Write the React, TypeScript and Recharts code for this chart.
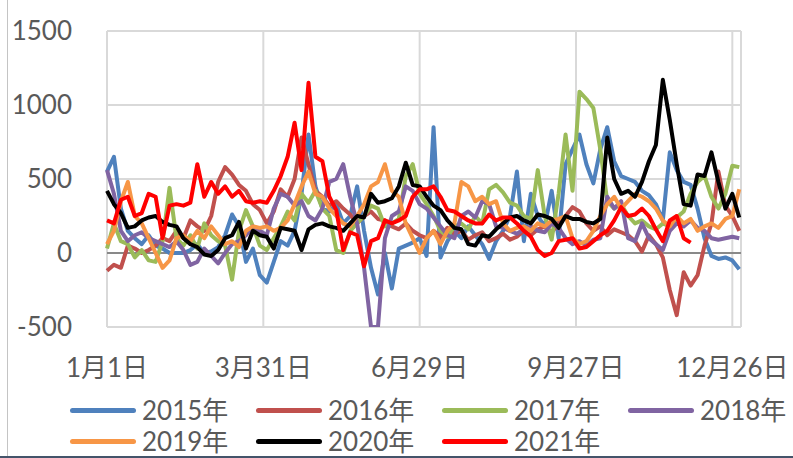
import { LineChart, Line, XAxis, YAxis, CartesianGrid } from "recharts";

// day of year (0 = 1月1日), sampled every 4 days
const days = [
  0, 4, 8, 12, 16, 20, 24, 28, 32, 36, 40, 44, 48, 52, 56, 60, 64, 68, 72, 76,
  80, 84, 88, 92, 96, 100, 104, 108, 112, 116, 120, 124, 128, 132, 136, 140,
  144, 148, 152, 156, 160, 164, 168, 172, 176, 180, 184, 188, 192, 196, 200,
  204, 208, 212, 216, 220, 224, 228, 232, 236, 240, 244, 248, 252, 256, 260,
  264, 268, 272, 276, 280, 284, 288, 292, 296, 300, 304, 308, 312, 316, 320,
  324, 328, 332, 336, 340, 344, 348, 352, 356, 360, 364,
];

const tickDays = [0, 90, 180, 270, 360];
const tickLabels = ["1月1日", "3月31日", "6月29日", "9月27日", "12月26日"];
const yTicks = [-500, 0, 500, 1000, 1500];

const y2015 = [
  550, 650, 300, 150, 100, 60, 120, 50, 30, 0,
  0, 0, 20, 60, 0, 10, 40, 120, 260, 180,
  -60, 30, -150, -200, -60, 80, 50, 150, 400, 800,
  450, 300, 280, 330, 200, 250, 450, 150, -100, -280,
  0, -240, 30, 50, 70, 100, -20, 850, -30, 80,
  150, 100, 180, 120, 60, -40, 80, 150, 250, 550,
  80, 400, 250, 180, 420, 100, 600, 700, 800, 600,
  470, 700, 850, 620, 520, 500, 480, 420, 390, 330,
  220, 680, 560, 480, 460, 300, 100, -20, -40, -30,
  -50, -110,
];
const y2016 = [
  -120, -80, -100, 50, 30, 0, 20, 50, 100, 80,
  150, 100, 220, 180, 150, 250, 480, 580, 530, 460,
  420, 330, 290, 200, 280, 430, 380, 500, 780, 600,
  420, 380, 320, 350, 300, 260, 200, 250, 280, 230,
  220, 180, 160, 200, 150, 120, 100, 150, 110, 170,
  130, 150, 90, 120, 140, 80, 100, 130, 90, 110,
  150, 120, 160, 180, 140, 200, 250, 310, 280, 200,
  150, 180, 120, 160, 140, 120, 80, 10, 120, 60,
  -30, -250, -420, -130, -220, -150, 50, 200, 550, 320,
  250, 150,
];
const y2017 = [
  30, 200, 80, 60, -30, 20, -50, -60, 80, 440,
  100, 50, 120, 30, 200, 120, 80, 50, -180, 150,
  290, 180, 50, 20, 100, 180, 280, 220, 400, 340,
  420, 300, 250, 20, 0, 150, 200, 250, 320, 300,
  180, 200, 230, 520, 600, 400, 330, 250, 150, 110,
  180, 200, 160, 250, 200, 430, 460, 410, 340, 320,
  250, 230, 560, 250, 90, 400, 800, 420, 1090, 1040,
  980, 700, 350, 300, 330, 250, 200, 220, 180, 160,
  200, 180, 240, 280, 400, 480, 520, 380, 300, 400,
  590, 580,
];
const y2018 = [
  560, 400, 150, 80, 120, 140, 100, 80, 60, 40,
  80, 20, -80, -60, 30, -20, -70, 0, 60, 80,
  120, 180, 150, 120, 300, 400, 380, 320, 350, 250,
  220, 300, 480, 500, 600, 380, 200, -100, -500, -500,
  100, 250, 280, 450, 420, 330, 300, 240, 180, 120,
  100, 250, 280, 240, 350, 330, 180, 170, 150, 130,
  160, 180, 150, 140, 200, 170, 100, 60, 80, 50,
  90, 100, 380, 300, 350, 100, 80, 200, 100, 60,
  20, 150, 200, 180, 220, 170, 150, 100, 90, 100,
  110, 100,
];
const y2019 = [
  60, 150, 350, 480, 250, 200, 100, 0, -100, -50,
  100, 120, 80, 150, 100, 180, 120, 60, 80, 40,
  150, 180, 170, 180, 150, 170, 220, 330, 450, 550,
  400, 380, 300, 250, 200, 180, 250, 330, 450, 480,
  600, 420, 380, 200, 100, 0, 100, 150, 60, 150,
  200, 480, 450, 350, 380, 330, 350, 200, 150, 170,
  180, 150, 200, 180, 220, 230, 250, 100, 60, 80,
  150, 250, 330, 380, 300, 350, 400, 380, 350, 300,
  220, 180, 250, 200, 230, 150, 180, 200, 170, 230,
  250, 430,
];
const y2020 = [
  420, 330, 270, 170, 180, 220, 240, 250, 210, 190,
  180, 100, 60, 40, -10, -20, 20, 100, 120, 210,
  30, 150, 120, 110, 30, 170, 160, 150, 20, 160,
  190, 200, 180, 170, 150, 200, 250, 240, 400, 340,
  350, 370, 450, 610, 460, 450, 380, 320, 290, 220,
  170, 160, 60, 50, 120, 110, 160, 200, 240, 250,
  220, 200, 260, 250, 230, 170, 250, 230, 230, 210,
  200, 230, 780, 500, 400, 420, 380, 480, 620, 730,
  1170, 900, 600, 330, 320, 530, 520, 680, 480, 300,
  400, 240,
];
const y2021 = [
  220, 200, 360, 380, 250, 270, 400, 380, 100, 320,
  330, 320, 340, 600, 380, 480, 400, 450, 380, 420,
  350, 340, 350, 340, 420, 520, 650, 880, 560, 1150,
  650, 620, 380, 290, 20, 140, 120, -90, 80, 100,
  220, 200, 220, 250, 380, 430, 430, 450, 380, 290,
  280, 250, 220, 200, 200, 260, 220, 240, 240, 200,
  150, 110, 20, -20, 0, 80, 90, 100, 30, 40,
  80, 120, 150, 220, 310, 250, 260, 300, 250, 160,
  80, 220, 250, 100, 70, null, null, null, null, null,
  null, null,
];

const seriesNames = ["2015年", "2016年", "2017年", "2018年", "2019年", "2020年", "2021年"];
const seriesColors = ["#4F81BD", "#C0504D", "#9BBB59", "#8064A2", "#F79646", "#000000", "#FF0000"];
const seriesValues = [y2015, y2016, y2017, y2018, y2019, y2020, y2021];

const data = days.map((day, i) => {
  const row: Record<string, number | null> = { day };
  seriesValues.forEach((vals, s) => {
    row["s" + s] = vals[i];
  });
  return row;
});

const FONT = "Lato, 'Noto Sans CJK SC', sans-serif";
const TEXT = "#595959";

function XTick({ x, y, payload }: any) {
  const label = tickLabels[tickDays.indexOf(payload.value)];
  return (
    <text x={x} y={y} dy={50} textAnchor="middle" fill={TEXT} fontSize={26} fontFamily={FONT}>
      {label}
    </text>
  );
}

function YTick({ x, y, payload }: any) {
  return (
    <text x={x} y={y} dy={9} textAnchor="end" fill={TEXT} fontSize={26} fontFamily={FONT}>
      {payload.value}
    </text>
  );
}

export default function App() {
  return (
    <div
      style={{
        position: "absolute",
        left: 0,
        top: 0,
        width: 793,
        height: 458,
        background: "#fff",
        overflow: "hidden",
        fontFamily: FONT,
      }}
    >
      <LineChart width={793} height={458} data={data} margin={{ top: 31, right: 52, bottom: 101, left: 7 }}>
        <CartesianGrid stroke="#D9D9D9" strokeWidth={2} />
        <CartesianGrid stroke="#898989" strokeWidth={2} vertical={false} horizontalValues={[0]} />
        <XAxis
          dataKey="day"
          type="number"
          domain={[0, 365]}
          ticks={tickDays}
          interval={0}
          tick={<XTick />}
          tickLine={false}
          axisLine={false}
          tickSize={0}
          tickMargin={0}
          height={30}
        />
        <YAxis
          domain={[-500, 1500]}
          ticks={yTicks}
          allowDataOverflow
          tick={<YTick />}
          tickLine={false}
          axisLine={false}
          tickSize={0}
          tickMargin={35}
          width={100}
        />
        {seriesNames.map((name, i) => (
          <Line
            key={name}
            name={name}
            dataKey={"s" + i}
            type="linear"
            stroke={seriesColors[i]}
            strokeWidth={4}
            strokeLinejoin="round"
            dot={false}
            activeDot={false}
            isAnimationActive={false}
          />
        ))}
      </LineChart>

      {/* legend */}
      <div
        style={{
          position: "absolute",
          left: 70,
          top: 395,
          width: 744,
          display: "flex",
          flexWrap: "wrap",
        }}
      >
        {seriesNames.map((name, i) => (
          <div key={name} style={{ width: 186, height: 31, display: "flex", alignItems: "center" }}>
            <span
              style={{
                display: "inline-block",
                width: 66,
                height: 5,
                borderRadius: 3,
                background: seriesColors[i],
                marginRight: 6,
              }}
            />
            <span style={{ fontSize: 26, lineHeight: "31px", color: TEXT }}>{name}</span>
          </div>
        ))}
      </div>

      {/* frame edges */}
      <div style={{ position: "absolute", left: 7, top: 0, width: 1, height: 456, background: "#C4C4C4" }} />
      <div style={{ position: "absolute", left: 0, bottom: 0, width: 793, height: 2, background: "#44546A" }} />
    </div>
  );
}
